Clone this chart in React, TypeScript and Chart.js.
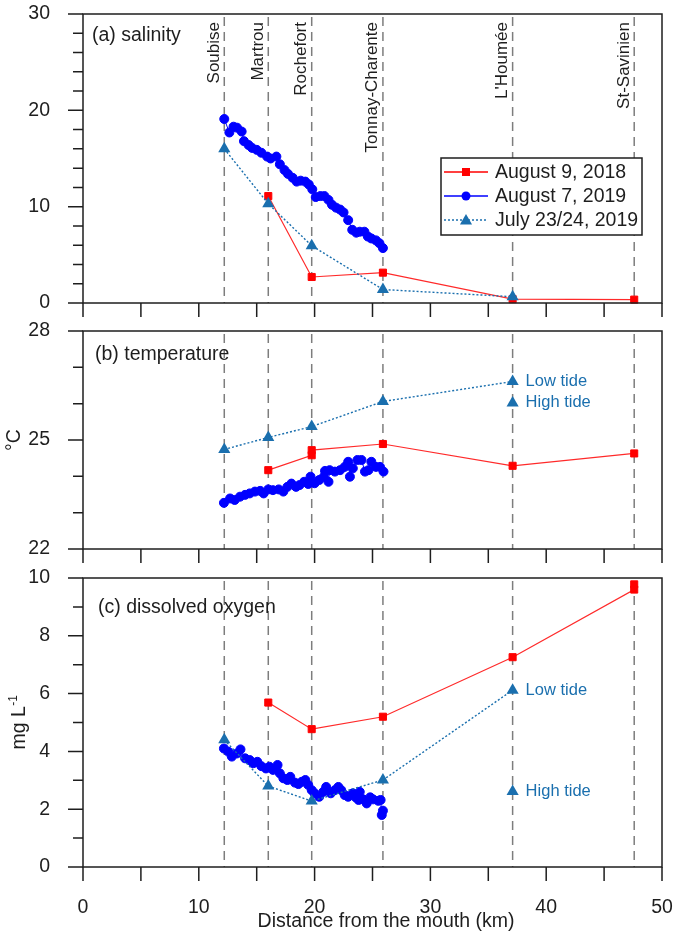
import React, { useEffect, useRef } from 'react';
import { Chart, registerables } from 'chart.js';
Chart.register(...registerables);

const FONT = '"Liberation Sans", Arial, Helvetica, sans-serif';
const TEAL = '#1a6fae';
const RED = '#ff0000';
const BLUE = '#0000ff';
const INK = '#1e1e1e';

// ---------- data ----------
const stationNames = ['Soubise', 'Martrou', 'Rochefort', 'Tonnay-Charente', "L'Houmée", 'St-Savinien'];
const stationKm = [12.2, 16.0, 19.75, 25.9, 37.1, 47.6];
const xTicks = [0, 5, 10, 15, 20, 25, 30, 35, 40, 45, 50];
const legendLabels = ['August 9, 2018', 'August 7, 2019', 'July 23/24, 2019'];
const tideLabels = ['Low tide', 'High tide'];

// (a) salinity
const salRedKm = [16.0, 19.75, 25.9, 37.1, 47.6];
const salRed = [11.1, 2.7, 3.15, 0.4, 0.35];
const salTealKm = [12.2, 16.0, 19.75, 25.9, 37.1];
const salTeal = [16.0, 10.3, 5.95, 1.4, 0.65];
const salBlueKm = [12.2, 12.64, 13.0, 13.3, 13.7, 13.9, 14.3, 14.6, 15.0, 15.4, 15.9, 16.2, 16.7, 17.0, 17.4, 17.7, 18.1, 18.45, 18.8, 19.2, 19.5, 19.8, 20.1, 20.5, 20.85, 21.2, 21.5, 21.85, 22.2, 22.5, 22.9, 23.25, 23.6, 23.9, 24.3, 24.6, 24.9, 25.3, 25.6, 25.9];
const salBlue = [19.1, 17.7, 18.3, 18.2, 17.8, 16.8, 16.4, 16.1, 15.9, 15.6, 15.2, 15.0, 15.2, 14.4, 13.8, 13.4, 13.0, 12.6, 12.7, 12.6, 12.3, 11.8, 11.0, 11.1, 11.1, 10.7, 10.2, 9.9, 9.7, 9.4, 8.6, 7.6, 7.3, 7.4, 7.4, 6.9, 6.7, 6.5, 6.2, 5.7];

// (b) temperature
const tempRedKm = [16.0, 19.75, 19.75, 25.9, 37.1, 47.6];
const tempRed = [24.17, 24.58, 24.72, 24.89, 24.29, 24.63];
const tempTealKm = [12.2, 16.0, 19.75, 25.9, 37.1];
const tempTeal = [24.74, 25.07, 25.37, 26.06, 26.61];
const tempTealHighKm = [37.1];
const tempTealHigh = [26.02];
const tempBlueKm = [12.17, 12.7, 13.1, 13.56, 14.0, 14.4, 14.85, 15.3, 15.6, 16.0, 16.4, 16.9, 17.3, 17.65, 18.0, 18.4, 18.7, 19.1, 19.45, 19.65, 20.0, 20.4, 20.8, 20.9, 21.2, 21.3, 21.75, 22.2, 22.6, 22.9, 23.05, 23.3, 23.7, 24.05, 24.35, 24.65, 24.9, 25.3, 25.65, 25.95];
const tempBlue = [23.27, 23.39, 23.35, 23.44, 23.49, 23.53, 23.58, 23.6, 23.53, 23.64, 23.62, 23.64, 23.58, 23.71, 23.8, 23.71, 23.76, 23.85, 23.79, 23.99, 23.81, 23.9, 23.99, 24.15, 23.85, 24.17, 24.13, 24.17, 24.26, 24.4, 23.99, 24.22, 24.45, 24.45, 24.13, 24.17, 24.4, 24.26, 24.26, 24.13];

// (c) dissolved oxygen
const doRedKm = [16.0, 19.75, 25.9, 37.1, 47.6, 47.6];
const doRed = [5.69, 4.77, 5.2, 7.26, 9.6, 9.78];
const doTealKm = [12.2, 16.0, 19.75, 25.9, 37.1];
const doTeal = [4.4, 2.8, 2.28, 3.01, 6.12];
const doTealHighKm = [37.1];
const doTealHigh = [2.61];
const doBlueKm = [12.17, 12.55, 12.85, 13.3, 13.6, 14.0, 14.4, 14.7, 15.05, 15.4, 15.8, 16.1, 16.4, 16.8, 17.0, 17.3, 17.65, 17.9, 18.3, 18.6, 18.9, 19.2, 19.45, 19.75, 20.0, 20.4, 20.75, 21.0, 21.4, 21.75, 22.05, 22.3, 22.6, 22.9, 23.3, 23.55, 23.8, 23.9, 24.2, 24.5, 24.8, 25.05, 25.5, 25.7, 25.8, 25.9];
const doBlue = [4.1, 3.99, 3.82, 3.93, 4.07, 3.76, 3.7, 3.59, 3.64, 3.49, 3.41, 3.47, 3.36, 3.53, 3.24, 3.07, 3.01, 3.12, 2.92, 2.87, 2.95, 3.01, 2.84, 2.66, 2.55, 2.43, 2.6, 2.77, 2.55, 2.66, 2.77, 2.66, 2.49, 2.43, 2.55, 2.41, 2.32, 2.6, 2.34, 2.2, 2.41, 2.34, 2.29, 2.32, 1.8, 1.95];

// ---------- helpers ----------
const zip = (xs: number[], ys: number[]) => xs.map((x, i) => ({ x, y: ys[i] }));

function marker(ctx: CanvasRenderingContext2D, kind: string, x: number, y: number, color: string) {
  ctx.save();
  ctx.fillStyle = color;
  ctx.beginPath();
  if (kind === 'rect') {
    ctx.rect(x - 4, y - 4, 8, 8);
  } else if (kind === 'circle') {
    ctx.arc(x, y, 4.5, 0, Math.PI * 2);
  } else {
    const r = 7;
    ctx.moveTo(x, y - r);
    ctx.lineTo(x + r * 0.866, y + r / 2);
    ctx.lineTo(x - r * 0.866, y + r / 2);
    ctx.closePath();
  }
  ctx.fill();
  ctx.restore();
}

const panelPlugin = {
  id: 'panel',
  beforeDatasetsDraw(chart: any, _args: any, o: any) {
    const { ctx, chartArea: a } = chart;
    const xs = chart.scales.x;
    ctx.save();
    ctx.strokeStyle = '#7d7d7d';
    ctx.lineWidth = 1.5;
    ctx.setLineDash([9, 6]);
    for (const k of stationKm) {
      const px = xs.getPixelForValue(k);
      ctx.beginPath();
      ctx.moveTo(px, a.top + 3);
      ctx.lineTo(px, a.bottom);
      ctx.stroke();
    }
    ctx.restore();
  },
  afterDatasetsDraw(chart: any, _args: any, o: any) {
    const { ctx, chartArea: a } = chart;
    const xs = chart.scales.x;
    const ys = chart.scales.y;
    ctx.save();
    ctx.setLineDash([]);
    // frame
    ctx.strokeStyle = INK;
    ctx.lineWidth = 1.5;
    ctx.strokeRect(a.left, a.top, a.right - a.left, a.bottom - a.top);
    // ticks
    ctx.beginPath();
    const n = Math.round((o.yMax - o.yMin) / o.yMinor);
    for (let i = 0; i <= n; i++) {
      const v = o.yMin + i * o.yMinor;
      const py = ys.getPixelForValue(v);
      const major = o.yMajor.some((m: number) => Math.abs(m - v) < 1e-6);
      ctx.moveTo(a.left - (major ? 15 : 10), py);
      ctx.lineTo(a.left, py);
    }
    for (const v of xTicks) {
      const px = xs.getPixelForValue(v);
      ctx.moveTo(px, a.bottom);
      ctx.lineTo(px, a.bottom + 14);
    }
    ctx.stroke();

    // panel label
    ctx.fillStyle = INK;
    ctx.font = `19.5px ${FONT}`;
    ctx.textAlign = 'left';
    ctx.textBaseline = 'middle';
    ctx.fillText(o.label, a.left + o.labelDx, a.top + o.labelDy);

    // station names
    if (o.stations) {
      ctx.font = `17px ${FONT}`;
      ctx.textAlign = 'right';
      ctx.textBaseline = 'alphabetic';
      stationKm.forEach((k, i) => {
        const px = xs.getPixelForValue(k);
        ctx.save();
        ctx.translate(px - 5.5, a.top + 8);
        ctx.rotate(-Math.PI / 2);
        ctx.fillText(stationNames[i], 0, 0);
        ctx.restore();
      });
    }

    // legend
    if (o.legend) {
      const lx = a.left + 358;
      const ly = a.top + 144;
      const lw = 201;
      const lh = 77;
      ctx.fillStyle = '#ffffff';
      ctx.fillRect(lx, ly, lw, lh);
      ctx.strokeStyle = INK;
      ctx.lineWidth = 1.5;
      ctx.strokeRect(lx, ly, lw, lh);
      const styles = [
        { c: RED, k: 'rect', dash: [] as number[], w: 1.3 },
        { c: BLUE, k: 'circle', dash: [] as number[], w: 1.3 },
        { c: TEAL, k: 'tri', dash: [2, 2], w: 1.5 },
      ];
      styles.forEach((s, i) => {
        const cy = ly + 14 + i * 24;
        ctx.save();
        ctx.strokeStyle = s.c;
        ctx.lineWidth = s.w;
        ctx.setLineDash(s.dash);
        ctx.beginPath();
        ctx.moveTo(lx + 3, cy);
        ctx.lineTo(lx + 47, cy);
        ctx.stroke();
        ctx.restore();
        marker(ctx, s.k, lx + 25, cy + (s.k === 'tri' ? 1 : 0), s.c);
        ctx.fillStyle = INK;
        ctx.font = `19.5px ${FONT}`;
        ctx.textAlign = 'left';
        ctx.textBaseline = 'middle';
        ctx.fillText(legendLabels[i], lx + 54, cy + 1);
      });
    }

    // tide labels
    if (o.tide) {
      ctx.fillStyle = TEAL;
      ctx.font = `16.5px ${FONT}`;
      ctx.textAlign = 'left';
      ctx.textBaseline = 'middle';
      const px = xs.getPixelForValue(o.tide.km) + 13;
      ctx.fillText(tideLabels[0], px, ys.getPixelForValue(o.tide.low));
      ctx.fillText(tideLabels[1], px, ys.getPixelForValue(o.tide.high));
    }

    // y title
    if (o.yTitle) {
      const cy = (a.top + a.bottom) / 2;
      ctx.save();
      ctx.fillStyle = INK;
      ctx.translate(o.yTitleX, cy);
      ctx.rotate(-Math.PI / 2);
      ctx.textAlign = 'left';
      ctx.textBaseline = 'alphabetic';
      ctx.font = `19.5px ${FONT}`;
      const w1 = ctx.measureText(o.yTitle).width;
      let w2 = 0;
      if (o.ySup) {
        ctx.font = `12px ${FONT}`;
        w2 = ctx.measureText(o.ySup).width;
      }
      const start = -(w1 + w2) / 2;
      ctx.font = `19.5px ${FONT}`;
      ctx.fillText(o.yTitle, start, 0);
      if (o.ySup) {
        ctx.font = `12px ${FONT}`;
        ctx.fillText(o.ySup, start + w1 + 0.5, -8);
      }
      ctx.restore();
    }

    // x title
    if (o.xTitle) {
      ctx.fillStyle = INK;
      ctx.font = `19.5px ${FONT}`;
      ctx.textAlign = 'center';
      ctx.textBaseline = 'middle';
      ctx.fillText(o.xTitle, 386, a.bottom + 55);
    }
    ctx.restore();
  },
};

type PanelSpec = {
  top: number;
  height: number;
  padTop: number;
  xHeight: number;
  xLabels: boolean;
  yMin: number;
  yMax: number;
  yStep: number;
  plugin: any;
  red: { x: number; y: number }[];
  blue: { x: number; y: number }[];
  teal: { x: number; y: number }[];
  tealHigh: { x: number; y: number }[];
};

const panels: PanelSpec[] = [
  {
    top: 0, height: 318, padTop: 14, xHeight: 15, xLabels: false,
    yMin: 0, yMax: 30, yStep: 10,
    plugin: { yMin: 0, yMax: 30, yMinor: 2, yMajor: [0, 10, 20, 30], label: '(a) salinity', labelDx: 9, labelDy: 22, stations: true, legend: true },
    red: zip(salRedKm, salRed), blue: zip(salBlueKm, salBlue), teal: zip(salTealKm, salTeal), tealHigh: [],
  },
  {
    top: 318, height: 246, padTop: 13, xHeight: 15, xLabels: false,
    yMin: 22, yMax: 28, yStep: 3,
    plugin: {
      yMin: 22, yMax: 28, yMinor: 1, yMajor: [22, 25, 28], label: '(b) temperature', labelDx: 12, labelDy: 24,
      tide: { km: tempTealHighKm[0], low: tempTeal[tempTeal.length - 1], high: tempTealHigh[0] },
      yTitle: '°C', yTitleX: 20,
    },
    red: zip(tempRedKm, tempRed), blue: zip(tempBlueKm, tempBlue), teal: zip(tempTealKm, tempTeal), tealHigh: zip(tempTealHighKm, tempTealHigh),
  },
  {
    top: 564, height: 371, padTop: 14, xHeight: 68, xLabels: true,
    yMin: 0, yMax: 10, yStep: 2,
    plugin: {
      yMin: 0, yMax: 10, yMinor: 1, yMajor: [0, 2, 4, 6, 8, 10], label: '(c) dissolved oxygen', labelDx: 15, labelDy: 30,
      tide: { km: doTealHighKm[0], low: doTeal[doTeal.length - 1], high: doTealHigh[0] },
      yTitle: 'mg L', ySup: '-1', yTitleX: 25, xTitle: 'Distance from the mouth (km)',
    },
    red: zip(doRedKm, doRed), blue: zip(doBlueKm, doBlue), teal: zip(doTealKm, doTeal), tealHigh: zip(doTealHighKm, doTealHigh),
  },
];

function zeroPad(s: any) {
  s.paddingTop = 0;
  s.paddingBottom = 0;
  s.paddingLeft = 0;
  s.paddingRight = 0;
}

function makeConfig(p: PanelSpec): any {
  const tickFont = { family: FONT, size: 19.5 };
  return {
    type: 'line',
    data: {
      datasets: [
        {
          data: p.teal, borderColor: TEAL, backgroundColor: TEAL, borderWidth: 1.4, borderDash: [2, 2],
          pointStyle: 'triangle', pointRadius: 7, pointBorderWidth: 0, pointBackgroundColor: TEAL, clip: false,
        },
        {
          data: p.tealHigh, showLine: false, borderColor: TEAL, backgroundColor: TEAL,
          pointStyle: 'triangle', pointRadius: 7, pointBorderWidth: 0, pointBackgroundColor: TEAL, clip: false,
        },
        {
          data: p.red, borderColor: '#ff2a2a', backgroundColor: RED, borderWidth: 1.2,
          pointStyle: 'rect', pointRadius: 5, pointBorderWidth: 1, pointBorderColor: RED, pointBackgroundColor: RED, clip: false,
        },
        {
          data: p.blue, borderColor: BLUE, backgroundColor: BLUE, borderWidth: 1,
          pointStyle: 'circle', pointRadius: 4.5, pointBorderWidth: 1, pointBorderColor: BLUE, pointBackgroundColor: BLUE, clip: false,
        },
      ],
    },
    options: {
      animation: false,
      responsive: false,
      events: [],
      layout: { autoPadding: false, padding: { top: p.padTop, right: 12, bottom: 0, left: 0 } },
      scales: {
        x: {
          type: 'linear', min: 0, max: 50,
          grid: { display: false }, border: { display: false },
          ticks: { display: p.xLabels, stepSize: 10, padding: 21, font: tickFont, color: INK, maxRotation: 0 },
          afterFit: (s: any) => { s.height = p.xHeight; zeroPad(s); },
        },
        y: {
          type: 'linear', min: p.yMin, max: p.yMax,
          grid: { display: false }, border: { display: false },
          ticks: { stepSize: p.yStep, padding: 25, font: tickFont, color: INK },
          afterFit: (s: any) => { s.width = 83; zeroPad(s); },
        },
      },
      plugins: {
        legend: { display: false },
        tooltip: { enabled: false },
        panel: p.plugin,
      },
    },
    plugins: [panelPlugin],
  };
}

function Panel({ spec }: { spec: PanelSpec }) {
  const ref = useRef<HTMLCanvasElement | null>(null);
  useEffect(() => {
    if (!ref.current) return;
    const chart = new Chart(ref.current, makeConfig(spec));
    return () => chart.destroy();
  }, [spec]);
  return (
    <canvas
      ref={ref}
      width={674}
      height={spec.height}
      style={{ position: 'absolute', left: 0, top: spec.top, width: 674, height: spec.height }}
    />
  );
}

export default function App() {
  return (
    <div style={{ position: 'absolute', left: 0, top: 0, width: 674, height: 935, background: '#ffffff' }}>
      {panels.map((p, i) => (
        <Panel key={i} spec={p} />
      ))}
    </div>
  );
}
